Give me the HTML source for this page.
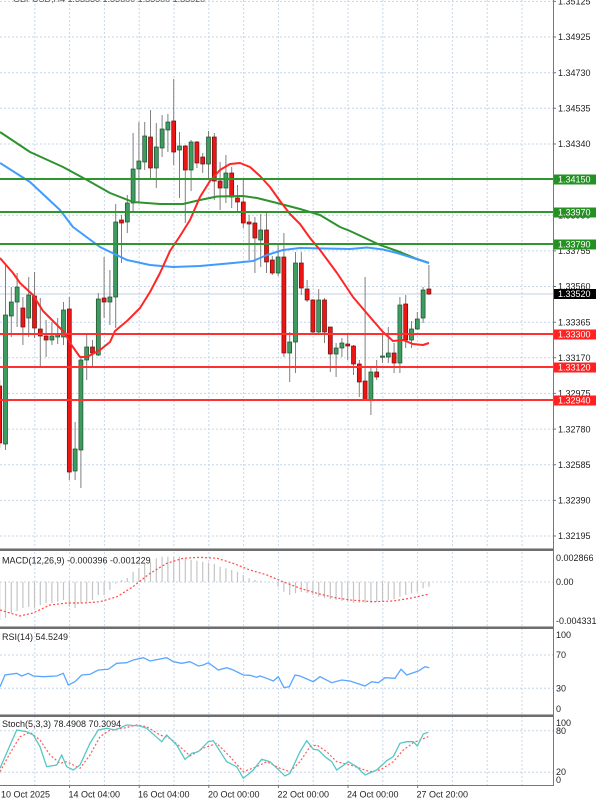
<!DOCTYPE html>
<html><head><meta charset="utf-8"><style>
html,body{margin:0;padding:0;background:#fff;}
svg{display:block;}
text{font-family:"Liberation Sans",sans-serif;font-size:9px;}
.g{fill:#3e9c60;stroke:#1d4d2e;stroke-width:.7}
.r{fill:#ee1515;stroke:#6a1010;stroke-width:.7}
</style></head><body>
<svg width="600" height="803" viewBox="0 0 600 803" xmlns="http://www.w3.org/2000/svg">
<rect width="600" height="803" fill="#fff"/>
<!-- vertical grid -->
<g stroke="#c6d6ea" stroke-width="1" stroke-dasharray="2,2">
<path d="M34.8 0V785M69.6 0V785M104.4 0V785M139.2 0V785M174 0V785M208.8 0V785M243.6 0V785M278.4 0V785M313.2 0V785M348 0V785M382.8 0V785M417.6 0V785M452.4 0V785M487.2 0V785M522 0V785"/>
<path d="M0 1.4H553M0 37H553M0 72.7H553M0 108.3H553M0 144H553M0 179.6H553M0 215.2H553M0 250.9H553M0 286.5H553M0 322.2H553M0 357.8H553M0 393.4H553M0 429.1H553M0 464.7H553M0 500.4H553M0 536H553"/>
<path d="M0 582H553M0 655H553M0 688.3H553M0 730.7H553M0 772.3H553"/>
</g>
<!-- header text (clipped) -->
<text x="13" y="2" fill="#555">GBPUSD,H4  1.33538 1.33600 1.33500 1.33520</text>
<!-- current price line -->
<line x1="0" y1="294" x2="553" y2="294" stroke="#c4d0e4" stroke-width="1"/>
<!-- candles wicks -->
<g stroke="#808080" stroke-width="1">
<path d="M-0.3 380V448M5.5 263V450M11.3 287V337M17.1 273V327M22.9 297V345M28.7 277V337M34.5 272V338M40.3 298V366M46.1 320V357M51.9 322V345M57.7 318V344M63.5 302V345M69.3 297V480M75.1 422V480M80.9 357V488M86.7 335V380M92.5 340V367M98.3 293V356M104.1 257V318M109.9 270V325M115.7 204V328M121.5 215V263M127.3 195V233M133.1 133V213M138.9 122V202M144.7 122V170M150.5 110V180M156.3 123V188M162.1 115V157M167.9 114V152M173.7 79V165M179.5 132V198M185.3 145V223M191.1 140V191M196.9 141V168M202.7 153V173M208.5 131V178M214.3 133V200M220.1 162V210M225.9 155V203M231.7 167V208M237.5 185V211M243.3 180V228M249.1 215V260M254.9 217V273M260.7 214V267M266.5 213V273M272.3 256V275M278.1 245V276M283.9 233V357M289.7 332V382M295.5 252V373M301.3 252V295M307.1 280V302M312.9 299V333M318.7 289V333M324.5 298V343M330.3 327V372M336.1 343V377M341.9 338V357M347.7 335V360M353.5 345V375M359.3 360V397M365.1 277V400M370.9 367V415M376.7 360V380M382.5 333V363M388.3 327V363M394.1 343V373M399.9 297V373M405.7 295V348M411.5 321V348M417.3 312V330M423.1 287V323M428.9 265V295"/>
</g>
<!-- candle bodies -->
<g>
<rect class="r" x="-2.3" y="386" width="4" height="57"/>
<rect class="g" x="3.5" y="315" width="4" height="129"/>
<rect class="g" x="9.3" y="302" width="4" height="14"/>
<rect class="g" x="15.1" y="287" width="4" height="15"/>
<rect class="r" x="20.9" y="308" width="4" height="19"/>
<rect class="g" x="26.7" y="295" width="4" height="23"/>
<rect class="r" x="32.5" y="296" width="4" height="32"/>
<rect class="r" x="38.3" y="329" width="4" height="7"/>
<rect class="r" x="44.1" y="336" width="4" height="4"/>
<rect class="g" x="49.9" y="336" width="4" height="4"/>
<rect class="g" x="55.7" y="334" width="4" height="3"/>
<rect class="g" x="61.5" y="310" width="4" height="27"/>
<rect class="r" x="67.3" y="309" width="4" height="163"/>
<rect class="g" x="73.1" y="449" width="4" height="22"/>
<rect class="g" x="78.9" y="360" width="4" height="90"/>
<rect class="g" x="84.7" y="347" width="4" height="13"/>
<rect class="r" x="90.5" y="347" width="4" height="6"/>
<rect class="g" x="96.3" y="299" width="4" height="56"/>
<rect class="r" x="102.1" y="298" width="4" height="4"/>
<rect class="g" x="107.9" y="297" width="4" height="5"/>
<rect class="g" x="113.7" y="222" width="4" height="75"/>
<rect class="r" x="119.5" y="220" width="4" height="3"/>
<rect class="g" x="125.3" y="203" width="4" height="19"/>
<rect class="g" x="131.1" y="169" width="4" height="34"/>
<rect class="g" x="136.9" y="161" width="4" height="8"/>
<rect class="g" x="142.7" y="136" width="4" height="26"/>
<rect class="r" x="148.5" y="137" width="4" height="31"/>
<rect class="g" x="154.3" y="147" width="4" height="21"/>
<rect class="g" x="160.1" y="129" width="4" height="19"/>
<rect class="g" x="165.9" y="122" width="4" height="8"/>
<rect class="r" x="171.7" y="121" width="4" height="31"/>
<rect class="g" x="177.5" y="146" width="4" height="4"/>
<rect class="r" x="183.3" y="146" width="4" height="24"/>
<rect class="g" x="189.1" y="142" width="4" height="28"/>
<rect class="r" x="194.9" y="142" width="4" height="21"/>
<rect class="r" x="200.7" y="157" width="4" height="7"/>
<rect class="g" x="206.5" y="137" width="4" height="27"/>
<rect class="r" x="212.3" y="137" width="4" height="44"/>
<rect class="r" x="218.1" y="181" width="4" height="7"/>
<rect class="g" x="223.9" y="173" width="4" height="15"/>
<rect class="r" x="229.7" y="173" width="4" height="24"/>
<rect class="r" x="235.5" y="198" width="4" height="4"/>
<rect class="r" x="241.3" y="202" width="4" height="21"/>
<rect class="r" x="247.1" y="222" width="4" height="2"/>
<rect class="r" x="252.9" y="223" width="4" height="15"/>
<rect class="g" x="258.7" y="230" width="4" height="10"/>
<rect class="r" x="264.5" y="230" width="4" height="32"/>
<rect class="r" x="270.3" y="260" width="4" height="13"/>
<rect class="g" x="276.1" y="257" width="4" height="16"/>
<rect class="r" x="281.9" y="257" width="4" height="96"/>
<rect class="g" x="287.7" y="342" width="4" height="11"/>
<rect class="g" x="293.5" y="263" width="4" height="79"/>
<rect class="r" x="299.3" y="263" width="4" height="25"/>
<rect class="r" x="305.1" y="289" width="4" height="11"/>
<rect class="r" x="310.9" y="300" width="4" height="32"/>
<rect class="g" x="316.7" y="300" width="4" height="32"/>
<rect class="r" x="322.5" y="300" width="4" height="32"/>
<rect class="r" x="328.3" y="327" width="4" height="27"/>
<rect class="g" x="334.1" y="348" width="4" height="6"/>
<rect class="g" x="339.9" y="343" width="4" height="5"/>
<rect class="r" x="345.7" y="344" width="4" height="2"/>
<rect class="r" x="351.5" y="346" width="4" height="18"/>
<rect class="r" x="357.3" y="364" width="4" height="18"/>
<rect class="r" x="363.1" y="381" width="4" height="19"/>
<rect class="g" x="368.9" y="372" width="4" height="28"/>
<rect class="r" x="374.7" y="372" width="4" height="5"/>
<rect class="g" x="380.5" y="356" width="4" height="1.2"/>
<rect class="g" x="386.3" y="353" width="4" height="4"/>
<rect class="r" x="392.1" y="353" width="4" height="10"/>
<rect class="g" x="397.9" y="305" width="4" height="58"/>
<rect class="r" x="403.7" y="304" width="4" height="36"/>
<rect class="g" x="409.5" y="329" width="4" height="11"/>
<rect class="g" x="415.3" y="319" width="4" height="10"/>
<rect class="g" x="421.1" y="290" width="4" height="28"/>
<rect class="r" x="426.9" y="289" width="4" height="5"/>
</g>
<!-- moving averages -->
<g fill="none" stroke-width="2" stroke-linejoin="round">
<polyline stroke="#2e922e" points="0,132 30,152 63,167 87,180 110,193 133,202 160,204 183,204 200,200 217,196.5 243,196 257,198 277,203 300,209 320,215 340,227 350,231 363,237 380,245 400,252 417,259 429,263"/>
<polyline stroke="#3f9cff" points="0,163 30,182 60,210 73,227 100,247 127,260 150,265 173,267 200,266 233,263 253,261 267,255 283,250 300,248 350,249 367,247.5 383,249.5 397,253 410,257 429,263"/>
<polyline stroke="#ff2626" points="0,258 13,273 20,283 33,295 43,311 53,321 65,333 70,343 80,357 87,357 100,350 110,342 115,331 127,321 140,308 150,292 160,273 170,251 180,236 190,220 200,197 210,181 220,170 230,164 240,163 250,167 260,176 270,187 280,201 290,214 300,224 310,238 320,250 337,273 353,297 370,317 383,332 393,341 403,340 413,344 423,345 429,343"/>
</g>
<!-- horizontal levels -->
<g stroke-width="2">
<line x1="0" y1="179" x2="553" y2="179" stroke="#2f952f"/>
<line x1="0" y1="212" x2="553" y2="212" stroke="#2f952f"/>
<line x1="0" y1="244" x2="553" y2="244" stroke="#2f952f"/>
<line x1="0" y1="334" x2="553" y2="334" stroke="#ff3030"/>
<line x1="0" y1="367" x2="553" y2="367" stroke="#ff3030"/>
<line x1="0" y1="400" x2="553" y2="400" stroke="#ff3030"/>
</g>
<!-- MACD histogram -->
<g stroke="#c4c4c4" stroke-width="1.2">
<path d="M-0.3 582V620M5.5 582V618M11.3 582V613M17.1 582V611M22.9 582V608M28.7 582V607M34.5 582V608M40.3 582V605M46.1 582V603M51.9 582V603M57.7 582V601.7M63.5 582V600M69.3 582V606.7M75.1 582V608M80.9 582V603M86.7 582V601.7M92.5 582V600M98.3 582V595M104.1 582V595M109.9 582V590M115.7 582V583.5M121.5 582V580M127.3 582V578M133.1 582V571.7M138.9 582V568.3M144.7 582V563.3M150.5 582V561.7M156.3 582V558.3M162.1 582V556.7M167.9 582V556.7M173.7 582V556.7M179.5 582V556.7M185.3 582V558.3M191.1 582V560M196.9 582V560.7M202.7 582V561.7M208.5 582V562.7M214.3 582V564M220.1 582V566.7M225.9 582V568.3M231.7 582V570M237.5 582V571.7M243.3 582V575M249.1 582V578.3M254.9 582V580M260.7 582V581M278.1 582V586.7M283.9 582V591.7M289.7 582V595M295.5 582V593.3M301.3 582V592M307.1 582V593.3M312.9 582V595M318.7 582V596.7M324.5 582V598.3M330.3 582V599.3M336.1 582V600M341.9 582V601M347.7 582V601.7M353.5 582V602.7M359.3 582V602.7M365.1 582V602.7M370.9 582V602.7M376.7 582V601.7M382.5 582V601M388.3 582V600M394.1 582V599.3M399.9 582V596.7M405.7 582V595M411.5 582V593.3M417.3 582V591.7M423.1 582V588.3M428.9 582V586.7"/>
</g>
<polyline fill="none" stroke="#ff4a4a" stroke-width="1.2" stroke-dasharray="2,2" points="0,610 20,616 33,613 50,605 67,603 83,603 100,601.7 117,596.7 133,586.7 150,573.3 167,563.3 183,558.3 200,557.3 217,558.3 233,563.3 250,570 267,575 283,581.7 300,588.3 317,593.3 333,597.3 350,600 373,601.7 393,601 410,598.3 428,594.3"/>
<!-- RSI -->
<polyline fill="none" stroke="#5aa6ff" stroke-width="1.3" points="0,686.7 5,675 16.7,673.3 21.7,676 28.3,673.3 33.3,676 43.3,676.7 56.7,676 63.3,673.3 68.3,685 75,681.7 81.7,675 90,674.3 98.3,670 108.3,669.3 116.7,663.3 126.7,662.7 133.3,660 143.3,657.7 150,661 166.7,657.7 173.3,661.7 181.7,663.3 190,661.7 198.3,666 203.3,665 208.3,662.7 218.3,670 226.7,667.7 233.3,670 243.3,675 250,675.3 256.7,677.3 260,676 266.7,678.3 273.3,681 278.3,676.7 284,687.7 289.3,686.7 295,675 300,676 313.3,681.7 320,676.7 331.7,682.7 341.7,680 350,681 365,686 371.7,681.7 378.3,682.7 385,677.7 395,678.3 401,669.3 406.7,675 418.3,671 425,666.7 429.3,667.7"/>
<!-- Stoch -->
<polyline fill="none" stroke="#ff5a5a" stroke-width="1.2" stroke-dasharray="2,2" points="0,771.7 10,753.3 20,736.7 30,732.3 40,740 50,755 60,763.3 66.7,761.7 80,768.3 90,755 100,736.7 110,730 123.3,728.3 136.7,725 146.7,726.7 160,735 170,738.3 180,746.7 190,756 203.3,748.3 216.7,743.3 230,756.7 243.3,771.7 256.7,766.7 266.7,761.7 280,768.3 290,771.7 300,761.7 310,746.7 316.7,745 326.7,751.7 336.7,761.7 350,765 360,768.3 370,771.7 380,770 393.3,761.7 403.3,750 413.3,742.7 428.3,736.7"/>
<polyline fill="none" stroke="#56c8c4" stroke-width="1.3" points="0,768.3 5,756.7 16.7,730 26.7,731.7 33.3,735 40,746.7 46.7,766.7 56.7,765 61.7,755 66.7,766.7 73.3,770 80,765 90,743.3 98.3,730 106.7,728.3 115,730 126.7,725 140,726 146.7,728.3 161.7,741.7 166.7,735 176.7,745 185,759.3 191.7,753.3 198.3,751.7 208.3,741.7 213.3,740.7 226.7,761.7 236.7,766.7 243.3,778.3 253.3,770 261.7,759.3 270,761.7 285,776 290,773.3 300,751.7 306.7,740.7 313.3,749.3 318.3,750 325,756.7 331.7,761.7 336.7,770 348.3,761.7 356.7,766.7 365,775 376.7,770 386.7,760.7 393.3,756.7 400,743.3 406.7,741.7 413.3,741.7 417.3,746 423.3,734 428.3,732.3"/>
<!-- indicator titles -->
<text x="2" y="563.5" fill="#222">MACD(12,26,9) -0.000396 -0.001229</text>
<text x="2" y="640" fill="#222">RSI(14) 54.5249</text>
<text x="2" y="727" fill="#222">Stoch(5,3,3) 78.4908 70.3094</text>
<!-- separators -->
<rect x="0" y="548" width="553" height="1" fill="#b0b0b0"/>
<rect x="0" y="549" width="553" height="2" fill="#6e6e6e"/>
<rect x="0" y="626" width="553" height="1" fill="#b0b0b0"/>
<rect x="0" y="627" width="553" height="2" fill="#6e6e6e"/>
<rect x="0" y="714" width="553" height="1" fill="#b0b0b0"/>
<rect x="0" y="715" width="553" height="2" fill="#6e6e6e"/>
<rect x="0" y="785" width="553" height="1" fill="#777"/>
<!-- right axis -->
<rect x="553" y="0" width="47" height="803" fill="#fff"/>
<line x1="553.5" y1="0" x2="553.5" y2="786" stroke="#777" stroke-width="1"/>
<g stroke="#777" stroke-width="1">
<path d="M553 1.4h3M553 37h3M553 72.7h3M553 108.3h3M553 144h3M553 250.9h3M553 286.5h3M553 322.2h3M553 357.8h3M553 393.4h3M553 429.1h3M553 464.7h3M553 500.4h3M553 536h3"/>
<path d="M69.6 785v3M139.2 785v3M208.8 785v3M278.4 785v3M348 785v3M417.6 785v3"/>
</g>
<g fill="#222">
<text x="558" y="4.6">1.35125</text>
<text x="558" y="40.2">1.34925</text>
<text x="558" y="75.9">1.34730</text>
<text x="558" y="111.5">1.34535</text>
<text x="558" y="147.2">1.34340</text>
<text x="558" y="218.4">1.33950</text>
<text x="558" y="254.1">1.33755</text>
<text x="558" y="289.7">1.33560</text>
<text x="558" y="325.4">1.33365</text>
<text x="558" y="361">1.33170</text>
<text x="558" y="396.6">1.32975</text>
<text x="558" y="432.3">1.32780</text>
<text x="558" y="467.9">1.32585</text>
<text x="558" y="503.6">1.32390</text>
<text x="558" y="539.2">1.32195</text>
<text x="556" y="561.2">0.002866</text>
<text x="556" y="585.2">0.00</text>
<text x="556" y="624.2">-0.004331</text>
<text x="556" y="638.2">100</text>
<text x="556" y="658.2">70</text>
<text x="556" y="691.5">30</text>
<text x="556" y="712">0</text>
<text x="556" y="726">100</text>
<text x="556" y="734">80</text>
<text x="556" y="775.2">20</text>
<text x="556" y="783.2">0</text>
</g>
<!-- level label boxes -->
<rect x="554" y="174.5" width="42" height="10" fill="#259125"/>
<text x="558" y="182.6" fill="#fff">1.34150</text>
<rect x="554" y="207.5" width="42" height="10" fill="#259125"/>
<text x="558" y="215.6" fill="#fff">1.33970</text>
<rect x="554" y="239.5" width="42" height="10" fill="#259125"/>
<text x="558" y="247.6" fill="#fff">1.33790</text>
<rect x="554" y="289" width="42" height="10" fill="#000"/>
<text x="558" y="297.2" fill="#fff">1.33520</text>
<rect x="554" y="329.5" width="42" height="10" fill="#ff2222"/>
<text x="558" y="337.6" fill="#fff">1.33300</text>
<rect x="554" y="362.5" width="42" height="10" fill="#ff2222"/>
<text x="558" y="370.6" fill="#fff">1.33120</text>
<rect x="554" y="395.5" width="42" height="10" fill="#ff2222"/>
<text x="558" y="403.6" fill="#fff">1.32940</text>
<!-- time axis -->
<g fill="#222">
<text x="1" y="797.5">10 Oct 2025</text>
<text x="68.5" y="797.5">14 Oct 04:00</text>
<text x="138" y="797.5">16 Oct 04:00</text>
<text x="208" y="797.5">20 Oct 00:00</text>
<text x="277.5" y="797.5">22 Oct 00:00</text>
<text x="347" y="797.5">24 Oct 00:00</text>
<text x="416.5" y="797.5">27 Oct 20:00</text>
</g>
</svg>
</body></html>
